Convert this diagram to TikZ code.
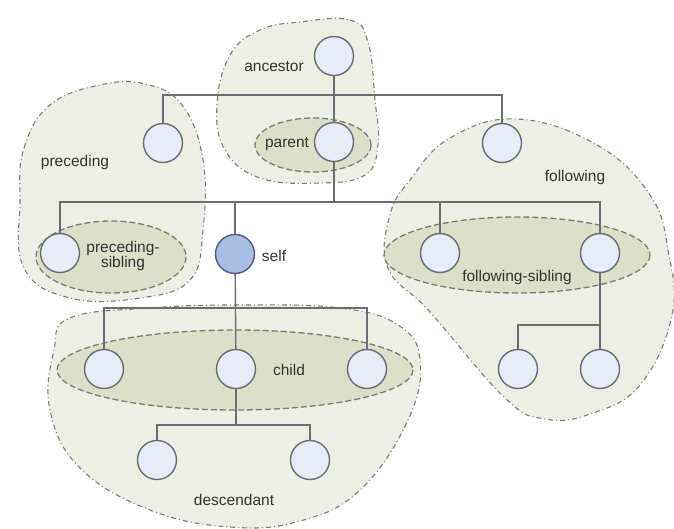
\documentclass[tikz,border=0pt]{standalone}
\usepackage{fontspec}
\setmainfont{Liberation Sans}
\usepackage{tikz}
\usetikzlibrary{positioning, calc}

\definecolor{blobfill}{HTML}{EEEFE4}
\definecolor{innerfill}{HTML}{DDE0C8}
\definecolor{nodefill}{HTML}{E8ECF8}
\definecolor{selffill}{HTML}{A9BDE0}
\definecolor{linegray}{HTML}{6A6E72}
\definecolor{dashgray}{HTML}{7A7C78}

\begin{document}
\begin{tikzpicture}[
    x=1pt, y=-1pt,
    circ/.style={circle, draw=linegray, line width=1.4pt, fill=nodefill, minimum size=39pt, inner sep=0pt},
    selfcirc/.style={circ, fill=selffill, draw=linegray!80!blue},
    lbl/.style={text=black!80, font=\fontsize{15.5}{17}\selectfont, inner sep=0pt, align=center},
    blob/.style={fill=blobfill, draw=dashgray, line width=1.1pt, dash pattern=on 5pt off 3pt on 1pt off 3pt},
    inner/.style={fill=innerfill, draw=dashgray, line width=1.3pt, dash pattern=on 6pt off 3pt},
    link/.style={draw=linegray, line width=1.4pt}
]
\useasboundingbox[fill=white] (0,0) rectangle (674,529);

% outer regions
\draw[blob] plot[smooth cycle, tension=0.7] coordinates {(300,22) (350,20) (368,42) (375,100) (378,145) (365,175) (320,183) (260,178) (225,150) (217,105) (230,55) (260,30)};
\draw[blob] plot[smooth cycle, tension=0.7] coordinates {(20,200) (24,148) (50,105) (100,85) (145,84) (182,105) (203,160) (203,230) (190,280) (140,298) (70,298) (24,268)};
\draw[blob] plot[smooth cycle, tension=0.7] coordinates {(517,119) (597,145) (650,195) (668,250) (672,315) (640,385) (590,414) (545,419) (505,398) (430,312) (388,268) (390,215) (410,180) (450,138)};
\draw[blob] plot[smooth cycle, tension=0.7] coordinates {(70,318) (150,308) (240,305) (340,308) (398,325) (420,360) (408,420) (360,490) (300,521) (230,527) (150,510) (80,468) (50,410) (54,350)};

% inner regions
\draw[inner] (313,145) ellipse [x radius=58, y radius=27];
\draw[inner] (111,257) ellipse [x radius=75, y radius=36];
\draw[inner] (517,255) ellipse [x radius=133, y radius=38];
\draw[inner] (235,370) ellipse [x radius=178, y radius=40];

% nodes
\node[circ] (anc) at (334,56) {};
\node[circ] (par) at (334,142) {};
\node[circ] (prec) at (163,143) {};
\node[circ] (foll) at (502,143) {};
\node[circ] (psib) at (60,253) {};
\node[selfcirc] (self) at (235,254) {};
\node[circ] (fsiba) at (440,253) {};
\node[circ] (fsibb) at (600,253) {};
\node[circ] (cha) at (104,369) {};
\node[circ] (chb) at (236,369) {};
\node[circ] (chc) at (367,369) {};
\node[circ] (desca) at (157,460) {};
\node[circ] (descb) at (310,460) {};
\node[circ] (fdesca) at (518,369) {};
\node[circ] (fdescb) at (600,369) {};

% junctions
\coordinate (jtop) at (334,95);
\coordinate (jpar) at (334,202);
\coordinate (jself) at (236,308);
\coordinate (jch) at (236,425);
\coordinate (jfs) at (600,325);

% links
\draw[link] (anc) -- (par);
\draw[link] (prec) |- (jtop) -| (foll);
\draw[link] (par) -- (jpar);
\draw[link] (psib) |- (jpar) -| (fsibb);
\draw[link] (self) -- (self |- jpar);
\draw[link] (fsiba) -- (fsiba |- jpar);
\draw[link] (self) -- (chb);
\draw[link] (cha) |- (jself) -| (chc);
\draw[link] (chb) -- (jch);
\draw[link] (desca) |- (jch) -| (descb);
\draw[link] (fsibb) -- (fdescb);
\draw[link] (fdesca) |- (jfs);

% labels
\node[lbl] (lanc) at (274,67) {ancestor};
\node[lbl] (lpar) at (287,144) {parent};
\node[lbl] (lprec) at (75,162) {preceding};
\node[lbl] (lpsib) at (123,256) {preceding-\\[-2pt]sibling};
\node[lbl] (lself) at (274,256) {self};
\node[lbl] (lfoll) at (575,177) {following};
\node[lbl] (lfsib) at (517,277) {following-sibling};
\node[lbl] (lch) at (289,370) {child};
\node[lbl] (ldesc) at (234,500) {descendant};

\end{tikzpicture}
\end{document}
